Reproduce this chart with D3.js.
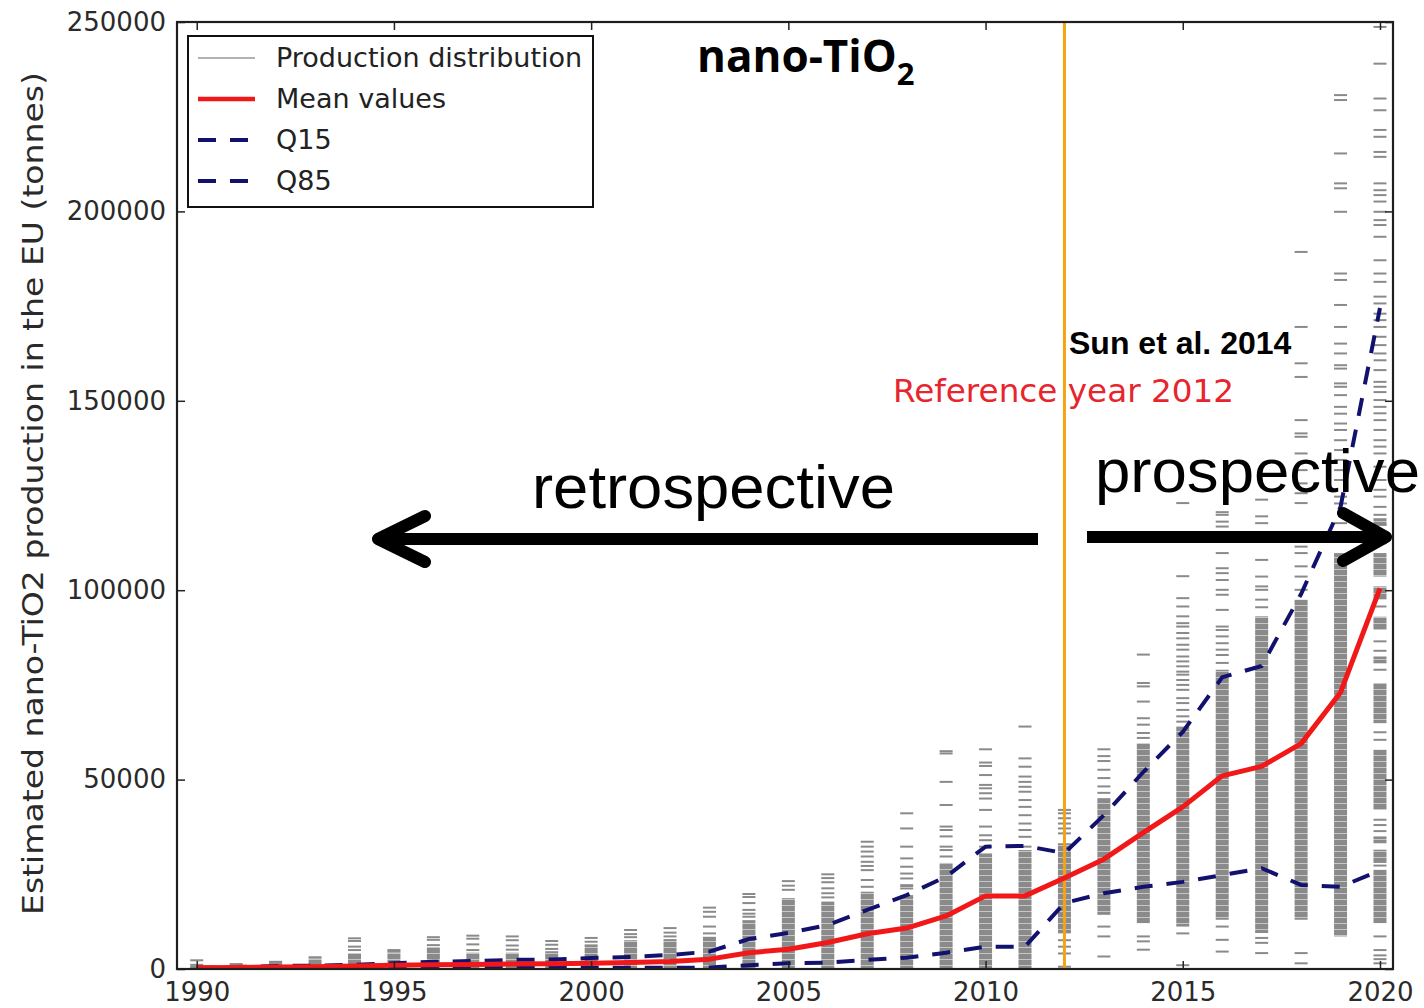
<!DOCTYPE html>
<html>
<head>
<meta charset="utf-8">
<script src="https://cdn.jsdelivr.net/npm/d3@7"></script>
<style>
  body { margin: 0; background: #fff; }
  svg { display: block; }
</style>
</head>
<body>
<svg id="chart" width="1424" height="1008"></svg>
<script>
// ---- data -------------------------------------------------------------
const years = [1990, 1991, 1992, 1993, 1994, 1995, 1996, 1997, 1998, 1999,
               2000, 2001, 2002, 2003, 2004, 2005, 2006, 2007, 2008, 2009,
               2010, 2011, 2012, 2013, 2014, 2015, 2016, 2017, 2018, 2019, 2020];

// estimated production, tonnes
const meanValues = [300, 400, 500, 600, 800, 1000, 1100, 1200, 1300, 1400,
                    1500, 1700, 2000, 2600, 4300, 5200, 7000, 9300, 10800, 14000,
                    19300, 19300, 24000, 29000, 36000, 42800, 51000, 53500, 59500, 73000, 100500];
const q15Values  = [100, 150, 200, 200, 250, 250, 300, 300, 300, 300,
                    300, 300, 300, 400, 1000, 1500, 1700, 2400, 3000, 4300,
                    5900, 5900, 17400, 20000, 21700, 23000, 24800, 26600, 22200, 21700, 26000];
const q85Values  = [300, 500, 800, 900, 1100, 1500, 1900, 2100, 2400, 2500,
                    2900, 3200, 3700, 4600, 7900, 9500, 11600, 15600, 19500, 24400,
                    32300, 32500, 30600, 40600, 52000, 62600, 77000, 80000, 99000, 122000, 174500];

// individual production samples per year, thousand tonnes
const sampleTicksKt = [
  [0.2, 0.6, 1.1, 2.3],
  [0.4, 0.9, 1.3],
  [1.6, 1.9],
  [3.1],
  [8.1, 7.4, 5.9, 5.0],
  [5.0, 4.6],
  [8.4, 7.7, 6.3],
  [8.8, 8.0, 6.5, 5.0],
  [8.6, 7.6, 6.2, 5.1],
  [7.4, 6.4, 5.3],
  [8.2, 7.2],
  [10.3, 9.2, 8.4],
  [10.8, 9.6, 8.6],
  [16.2, 15.1, 13.8, 11.2, 9.4],
  [19.8, 19.0, 17.4, 15.6, 14.6, 13.8],
  [23.2, 22.0, 20.9],
  [25.0, 24.0, 22.9, 21.3, 20.0, 18.9],
  [33.6, 32.3, 31.0, 29.7, 28.3, 27.2, 26.1, 23.5, 21.7],
  [41.1, 37.1, 32.3, 29.2, 27.0, 25.2, 23.9],
  [57.5, 56.9, 49.4, 43.3, 37.6, 36.7, 35.0, 32.3, 31.4, 29.7],
  [58.0, 54.5, 53.6, 51.2, 48.6, 47.7, 46.4, 45.0, 42.0, 37.6, 35.3, 34.0, 32.3],
  [64.0, 55.6, 53.4, 50.8, 49.4, 48.1, 46.8, 44.6, 42.8, 40.6, 38.4, 36.7, 34.9, 32.3],
  [42.0, 41.1, 39.8, 38.4, 37.1, 35.8, 7.6, 5.9, 4.1, 0.6],
  [58.0, 56.2, 54.9, 52.6, 50.4, 48.2, 46.5, 11.2, 8.6, 3.3],
  [83.0, 75.5, 74.6, 70.6, 66.2, 64.5, 62.3, 61.0, 8.6, 7.3, 5.1],
  [123.0, 103.7, 97.9, 95.7, 93.1, 91.3, 90.4, 88.7, 87.3, 85.6, 84.3, 82.5, 81.2, 79.9,
   78.5, 77.7, 76.3, 75.0, 73.7, 71.5, 70.2, 68.4, 66.7, 65.3, 9.4, 1.0],
  [120.6, 119.9, 118.1, 116.8, 109.8, 105.8, 104.5, 102.7, 100.1, 98.8, 94.8, 90.4, 89.5,
   87.8, 86.0, 84.3, 82.9, 80.8, 11.2, 7.7, 4.6],
  [123.9, 119.5, 117.7, 108.0, 103.6, 101.0, 100.1, 97.5, 95.5, 8.2, 6.9, 4.2],
  [189.3, 169.5, 159.9, 156.3, 144.9, 141.4, 140.5, 136.1, 131.7, 128.2, 125.6, 123.0,
   111.5, 109.8, 106.3, 103.6, 100.1, 4.2, 1.5],
  [230.7, 229.4, 215.3, 207.4, 206.1, 199.9, 183.6, 181.9, 175.3, 169.5, 165.1, 162.5,
   159.4, 158.5, 154.6, 153.7, 151.5, 148.4, 146.6, 144.0, 142.3, 139.6, 137.0, 134.4,
   131.7, 129.1, 124.7, 122.9, 117.7, 114.2],
  [248.7, 239.0, 229.8, 226.7, 221.5, 219.7, 215.7, 214.4, 207.4, 205.6, 204.3, 202.6,
   199.9, 197.7, 196.4, 193.3, 187.1, 183.6, 181.4, 177.5, 175.7, 173.0, 171.3, 169.5,
   166.9, 164.7, 162.5, 160.7, 158.1, 155.0, 153.7, 152.3, 150.2, 148.4, 146.7, 144.9,
   142.3, 139.6, 137.9, 136.1, 132.6, 129.1, 126.5, 124.7, 122.0, 119.9, 117.3, 114.6,
   112.4, 95.7, 86.5, 84.0, 79.0, 62.5, 60.5, 39.4, 38.0, 36.4, 27.3, 8.6, 5.0, 3.6, 2.6, 1.5]
];

// stretches where the samples pile up into a solid column, thousand tonnes [low, high]
const denseRunsKt = [
  [[0, 0.5]], [[0, 0.7]], [[0, 1.4]], [[0, 2.8]], [[0, 4.2]],
  [[0, 4.3]], [[0, 5.8]], [[0, 4.3]], [[0, 4.3]], [[0, 4.7]],
  [[0, 6.5]], [[0, 7.6]], [[0, 7.9]], [[0, 8.5]], [[0, 12.9]],
  [[0, 18.7]], [[0, 17.8]], [[0, 20.4]], [[0, 19.5], [21.0, 22.4]], [[0, 28.0]],
  [[0, 30.5]], [[0, 31.4]], [[9.4, 33.2]], [[14.3, 45.1]], [[12.1, 59.6]],
  [[11.2, 64.0]], [[13.0, 79.0]], [[9.5, 93.1]], [[13.0, 97.5]], [[8.6, 109.8]],
  [[117.0, 119.0], [103.6, 109.8], [97.5, 101.0], [89.5, 93.0], [80.7, 82.5],
   [64.9, 75.5], [42.0, 57.9], [33.2, 35.0], [28.0, 31.5], [12.1, 26.2]]
];

const yTickValues = [0, 50000, 100000, 150000, 200000, 250000];
const xTickValues = [1990, 1995, 2000, 2005, 2010, 2015, 2020];
const referenceYear = 2012;
const legendLabels = ["Production distribution", "Mean values", "Q15", "Q85"];

// ---- layout -----------------------------------------------------------
const svg = d3.select("#chart");
const plot = { left: 177, right: 1393, top: 22, bottom: 969 };

const x = d3.scaleLinear().domain([1989.5, 2020.33]).range([plot.left, plot.right]);
const y = d3.scaleLinear().domain([0, 250000]).range([plot.bottom, plot.top]);

const GRAY = "#8a8a8a", RED = "#f01818", NAVY = "#12126e", ORANGE = "#f4a313";
const TICK_HALF = 6.5;

const defs = svg.append("defs");
defs.append("clipPath").attr("id", "plot-clip")
  .append("rect")
  .attr("x", plot.left).attr("y", plot.top)
  .attr("width", plot.right - plot.left).attr("height", plot.bottom - plot.top);

// horizontal striping for piled-up sample ticks
const stripes = defs.append("pattern").attr("id", "stripes")
  .attr("patternUnits", "userSpaceOnUse").attr("width", 20).attr("height", 6);
stripes.append("rect").attr("width", 20).attr("height", 6).attr("fill", "#c6c6c6");
stripes.append("rect").attr("width", 20).attr("height", 5).attr("fill", GRAY);

const data = svg.append("g").attr("clip-path", "url(#plot-clip)");

// distribution columns
const columns = data.selectAll("g.year").data(years).join("g").attr("class", "year");

columns.selectAll("rect.run")
  .data((d, i) => denseRunsKt[i].map(r => ({ year: d, lo: r[0] * 1000, hi: r[1] * 1000 })))
  .join("rect").attr("class", "run")
  .attr("x", d => x(d.year) - TICK_HALF)
  .attr("width", TICK_HALF * 2)
  .attr("y", d => y(d.hi))
  .attr("height", d => y(d.lo) - y(d.hi))
  .attr("fill", "url(#stripes)");

columns.selectAll("line.sample")
  .data((d, i) => sampleTicksKt[i].map(v => ({ year: d, value: v * 1000 })))
  .join("line").attr("class", "sample")
  .attr("x1", d => x(d.year) - TICK_HALF)
  .attr("x2", d => x(d.year) + TICK_HALF)
  .attr("y1", d => y(d.value))
  .attr("y2", d => y(d.value))
  .attr("stroke", GRAY).attr("stroke-width", 2);

// reference year marker
data.append("line")
  .attr("x1", x(referenceYear)).attr("x2", x(referenceYear))
  .attr("y1", y(250000)).attr("y2", y(0))
  .attr("stroke", ORANGE).attr("stroke-width", 3);

// quantile and mean curves
const line = d3.line().x(d => x(d[0])).y(d => y(d[1]));
[q15Values, q85Values].forEach(vals => {
  data.append("path")
    .attr("d", line(years.map((yr, i) => [yr, vals[i]])))
    .attr("fill", "none").attr("stroke", NAVY).attr("stroke-width", 4)
    .attr("stroke-dasharray", "18,14");
});
data.append("path")
  .attr("d", line(years.map((yr, i) => [yr, meanValues[i]])))
  .attr("fill", "none").attr("stroke", RED).attr("stroke-width", 5)
  .attr("stroke-linejoin", "round");

// ---- axes -------------------------------------------------------------
const axisFont = "DejaVu Sans, sans-serif";

const yAxis = svg.append("g").attr("transform", `translate(${plot.left},0)`)
  .call(d3.axisLeft(y).tickValues(yTickValues).tickFormat(d3.format("d"))
    .tickSize(-8).tickPadding(11));
const xAxis = svg.append("g").attr("transform", `translate(0,${plot.bottom})`)
  .call(d3.axisBottom(x).tickValues(xTickValues).tickFormat(d3.format("d"))
    .tickSize(-8).tickPadding(14));
const yAxisR = svg.append("g").attr("transform", `translate(${plot.right},0)`)
  .call(d3.axisRight(y).tickValues(yTickValues).tickFormat("").tickSize(-8));
const xAxisT = svg.append("g").attr("transform", `translate(0,${plot.top})`)
  .call(d3.axisTop(x).tickValues(xTickValues).tickFormat("").tickSize(-8));

[yAxis, xAxis, yAxisR, xAxisT].forEach(g => {
  g.select(".domain").remove();
  g.selectAll(".tick line").attr("stroke", "#222").attr("stroke-width", 1.5);
  g.selectAll(".tick text").attr("font-family", axisFont).attr("font-size", 26)
    .attr("fill", "#2a2a2a");
});

svg.append("rect")
  .attr("x", plot.left).attr("y", plot.top)
  .attr("width", plot.right - plot.left).attr("height", plot.bottom - plot.top)
  .attr("fill", "none").attr("stroke", "#1e1e1e").attr("stroke-width", 2.2);

svg.append("text")
  .attr("transform", "translate(43,493.5) rotate(-90)")
  .attr("text-anchor", "middle")
  .attr("font-family", axisFont).attr("font-size", 29).attr("fill", "#2a2a2a")
  .attr("textLength", 843).attr("lengthAdjust", "spacingAndGlyphs")
  .text("Estimated nano-TiO2 production in the EU (tonnes)");

// ---- legend -----------------------------------------------------------
const legend = svg.append("g");
legend.append("rect")
  .attr("x", 188).attr("y", 36).attr("width", 405).attr("height", 171)
  .attr("fill", "#fff").attr("stroke", "#111").attr("stroke-width", 2);

const legendStyles = [
  { stroke: "#999", width: 1.5, dash: null },
  { stroke: RED, width: 4.5, dash: null },
  { stroke: NAVY, width: 4, dash: "18,14" },
  { stroke: NAVY, width: 4, dash: "18,14" }
];
legendLabels.forEach((label, i) => {
  const rowY = 58 + i * 41;
  const s = legendStyles[i];
  legend.append("line")
    .attr("x1", 198).attr("x2", 255).attr("y1", rowY).attr("y2", rowY)
    .attr("stroke", s.stroke).attr("stroke-width", s.width)
    .attr("stroke-dasharray", s.dash);
  legend.append("text")
    .attr("x", 276).attr("y", rowY).attr("dy", "0.35em")
    .attr("font-family", axisFont).attr("font-size", 27).attr("fill", "#222")
    .text(label);
});

// ---- annotations ------------------------------------------------------
const title = svg.append("text")
  .attr("x", 697).attr("y", 72)
  .attr("font-family", "Open Sans, sans-serif").attr("font-weight", "bold")
  .attr("font-size", 44).attr("fill", "#000");
title.append("tspan").text("nano-TiO");
title.append("tspan").attr("dy", 13).attr("font-size", 31).text("2");

svg.append("text")
  .attr("x", 1069).attr("y", 354)
  .attr("font-family", "Liberation Sans, Arial, sans-serif").attr("font-weight", "bold")
  .attr("font-size", 32).attr("fill", "#000")
  .text("Sun et al. 2014");

svg.append("text")
  .attr("x", 893).attr("y", 402)
  .attr("font-family", axisFont).attr("font-size", 32).attr("fill", "#e8242c")
  .attr("textLength", 341).attr("lengthAdjust", "spacingAndGlyphs")
  .text("Reference year 2012");

svg.append("text")
  .attr("x", 532).attr("y", 508)
  .attr("font-family", "Liberation Sans, Arial, sans-serif")
  .attr("font-size", 62).attr("fill", "#000")
  .attr("textLength", 363).attr("lengthAdjust", "spacingAndGlyphs")
  .text("retrospective");

svg.append("text")
  .attr("x", 1095).attr("y", 492)
  .attr("font-family", "Liberation Sans, Arial, sans-serif")
  .attr("font-size", 62).attr("fill", "#000")
  .attr("textLength", 325).attr("lengthAdjust", "spacingAndGlyphs")
  .text("prospective");

// direction arrows
const arrows = svg.append("g")
  .attr("stroke", "#000").attr("stroke-width", 12).attr("fill", "none");
arrows.append("line").attr("x1", 1038).attr("x2", 382).attr("y1", 539).attr("y2", 539);
arrows.append("polyline").attr("points", "425,516 378,539 425,562")
  .attr("stroke-linecap", "round").attr("stroke-linejoin", "round");
arrows.append("line").attr("x1", 1087).attr("x2", 1382).attr("y1", 537).attr("y2", 537);
arrows.append("polyline").attr("points", "1343,513 1386,537 1343,561")
  .attr("stroke-linecap", "round").attr("stroke-linejoin", "round");
</script>
</body>
</html>
